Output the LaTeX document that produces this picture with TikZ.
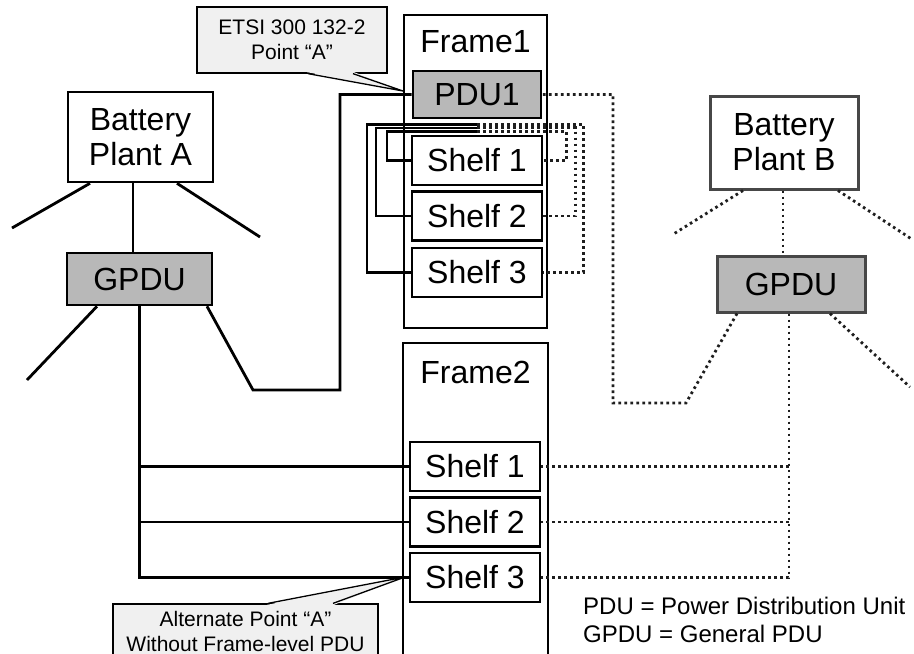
\documentclass[tikz,border=0pt]{standalone}
\usepackage{fontspec}
\setmainfont{Liberation Sans}
\usetikzlibrary{positioning}
\definecolor{pdufill}{HTML}{B8B8B8}
\definecolor{notefill}{HTML}{F0F0F0}
\definecolor{bfeedc}{HTML}{1E1E1E}

\begin{document}
\begin{tikzpicture}[x=1pt,y=-1pt,
  every node/.style={font=\fontsize{32}{35}\selectfont},
  box/.style={draw,line width=2.6pt,align=center,inner sep=0pt},
  pdu/.style={box,fill=pdufill},
  bbox/.style={draw=black!72,line width=3pt},
  shelf/.style={box,minimum width=130pt,minimum height=49pt},
  rack/.style={draw,line width=1.8pt,inner sep=0pt},
  note/.style={draw,line width=1.3pt,fill=notefill,align=center,inner sep=0pt,
    font=\fontsize{21}{25}\selectfont},
  noteline/.style={line width=1.3pt},
  afeed/.style={line width=2.8pt},
  awire/.style={line width=2.4pt},
  bfeed/.style={draw=bfeedc,line width=2.8pt,dash pattern=on 2.6pt off 3.4pt}]
\useasboundingbox (0,0) rectangle (914,654);
\clip (0,0) rectangle (914,654);
\node[rack,minimum width=143pt,minimum height=313pt] (frame1) at (475.5,171.5) {};
\node[rack,minimum width=145pt,minimum height=360pt] (frame2) at (475.5,523) {};
\node (f1lab) at (475.5,42) {Frame1};
\node (f2lab) at (475.5,372) {Frame2};
\node[pdu,minimum width=128pt,minimum height=47pt] (pdu1) at (477,94.5) {PDU1};
\foreach \i/\y in {1/160.5,2/216,3/272.5}
  \node[shelf] (s1\i) at (477,\y) {Shelf \i};
\foreach \i/\y in {1/466.5,2/522,3/577.5}
  \node[shelf] (s2\i) at (475,\y) {Shelf \i};
\node[box,minimum width=145pt,minimum height=90pt] (batA) at (140.5,137)
  {Battery\\Plant A};
\node[pdu,minimum width=145pt,minimum height=52pt] (gpduA) at (139.5,279) {GPDU};
\node[box,bbox,minimum width=148pt,minimum height=93pt] (batB)
  at (784,142.5) {Battery\\Plant B};
\node[pdu,bbox,minimum width=148pt,minimum height=56pt] (gpduB)
  at (791,284) {GPDU};
\coordinate (aL) at (12,228);
\coordinate (aR) at (260,237);
\coordinate (gL) at (27,380);
\coordinate (aBend) at (253,390);
\coordinate (aRise) at (340,390);
\coordinate (bL) at (672,235);
\coordinate (bR) at (913,240);
\coordinate (gR) at (910,387);
\coordinate (bBend) at (686,403);
\coordinate (bRise) at (613,403);
\coordinate (gB) at ([xshift=-2pt]gpduB.south);
\coordinate (t3) at ([yshift=-5pt]pdu1.south);
\coordinate (t2) at ([yshift=-8.5pt]pdu1.south);
\coordinate (t1) at ([yshift=-12pt]pdu1.south);
% plant A feeds
\draw[afeed] ([xshift=-50.5pt]batA.south) -- (aL);
\draw[afeed] ([xshift=-7.5pt]batA.south) -- ([xshift=-6.5pt]gpduA.north);
\draw[afeed] ([xshift=36.5pt]batA.south) -- (aR);
\draw[afeed] ([xshift=-42.5pt]gpduA.south) -- (gL);
\draw[afeed] ([xshift=67.5pt]gpduA.south) -- (aBend) -- (aRise) |- (pdu1.west);
\draw[afeed] (gpduA.south) |- (s23.west);
\foreach \i in {1,2} {\draw[afeed] (gpduA.south |- s2\i.west) -- (s2\i.west);}
\draw[awire] (t3) -| ([xshift=-44pt]s13.west) -- (s13.west);
\draw[awire] (t2) -| ([xshift=-35pt]s12.west) -- (s12.west);
\draw[awire] (t1) -| ([xshift=-24pt]s11.west) -- (s11.west);
% plant B feeds
\draw[bfeed] ([xshift=-41pt]batB.south) -- (bL);
\draw[bfeed] ([xshift=-1pt]batB.south) -- ([xshift=-8pt]gpduB.north);
\draw[bfeed] ([xshift=54pt]batB.south) -- (bR);
\draw[bfeed] ([xshift=39pt]gpduB.south) -- (gR);
\draw[bfeed] ([xshift=-54pt]gpduB.south) -- (bBend) -- (bRise) |- (pdu1.east);
\draw[bfeed] (gB) |- (s23.east);
\foreach \i in {1,2} {\draw[bfeed] (gB |- s2\i.east) -- (s2\i.east);}
\draw[bfeed] (t3) -| ([xshift=40pt]s13.east) -- (s13.east);
\draw[bfeed] (t2) -| ([xshift=32pt]s12.east) -- (s12.east);
\draw[bfeed] (t1) -| ([xshift=23pt]s11.east) -- (s11.east);
% callouts
\coordinate (tipA) at (403,91);
\coordinate (tipB) at (405,577);
\node[note,minimum width=190pt,minimum height=66pt] (note1) at (292,40)
  {ETSI 300 132-2\\Point “A”};
\fill[notefill] ([xshift=15pt,yshift=1.5pt]note1.south) -- (tipA)
  -- ([xshift=62pt,yshift=1.5pt]note1.south) -- cycle;
\draw[noteline] ([xshift=16pt]note1.south) -- (tipA) -- ([xshift=61pt]note1.south);
\node[note,minimum width=265pt,minimum height=54pt] (note2) at (245.5,631)
  {Alternate Point “A”\\Without Frame-level PDU};
\fill[notefill] ([xshift=21.5pt,yshift=-1.5pt]note2.north) -- (tipB)
  -- ([xshift=88.5pt,yshift=-1.5pt]note2.north) -- cycle;
\draw[noteline] ([xshift=22.5pt]note2.north) -- (tipB) -- ([xshift=87.5pt]note2.north);
\node[anchor=west,align=left,inner sep=0pt,font=\fontsize{24}{28}\selectfont]
  (legend) at (583,620) {PDU = Power Distribution Unit\\GPDU = General PDU};
\end{tikzpicture}
\end{document}
